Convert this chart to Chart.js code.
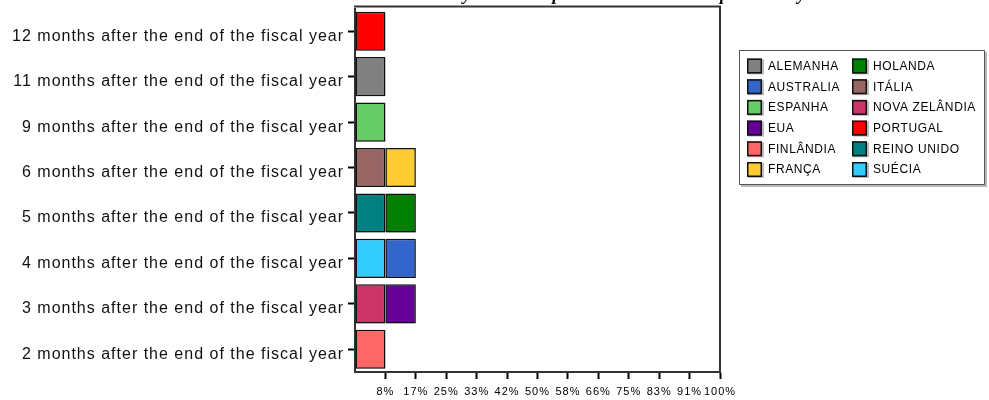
<!DOCTYPE html>
<html>
<head>
<meta charset="utf-8">
<script src="https://cdn.jsdelivr.net/npm/chart.js@4/dist/chart.umd.min.js"></script>
<style>
  html, body { margin: 0; padding: 0; background: #fff; }
  #wrap { width: 989px; height: 400px; }
</style>
</head>
<body>
<div id="wrap"><canvas id="chart" width="989" height="400"></canvas></div>
<script>
// Delay categories (top to bottom) and the month count each one stands for
const categories = [
  '12 months after the end of the fiscal year',
  '11 months after the end of the fiscal year',
  '9 months after the end of the fiscal year',
  '6 months after the end of the fiscal year',
  '5 months after the end of the fiscal year',
  '4 months after the end of the fiscal year',
  '3 months after the end of the fiscal year',
  '2 months after the end of the fiscal year'
];
const categoryMonths = [12, 11, 9, 6, 5, 4, 3, 2];

// Countries in stacking order, with their publication delay in months
const countries = ['PORTUGAL', 'ALEMANHA', 'ESPANHA', 'ITÁLIA', 'FRANÇA', 'REINO UNIDO',
                   'HOLANDA', 'SUÉCIA', 'AUSTRALIA', 'NOVA ZELÂNDIA', 'EUA', 'FINLÂNDIA'];
const delayMonths = [12, 11, 9, 6, 6, 5, 5, 4, 4, 3, 3, 2];
const countryColors = ['#FF0000', '#808080', '#66CC66', '#996666', '#FFCC33', '#008080',
                       '#008000', '#33CCFF', '#3366CC', '#CC3366', '#660099', '#FF6666'];

// Share-of-countries axis labels (one step per country out of twelve)
const tickLabels = ['', '8%', '17%', '25%', '33%', '42%', '50%', '58%', '66%', '75%', '83%', '91%', '100%'];

const titleText = 'Delay in annual publication in months per country';

const datasets = countries.map((name, i) => ({
  label: name,
  data: categoryMonths.map(m => (m === delayMonths[i] ? 1 : null)),
  backgroundColor: countryColors[i],
  borderColor: '#111',
  borderWidth: 1.5,
  borderSkipped: false,
  barPercentage: 0.86,
  categoryPercentage: 1
}));

const FONT = '"Liberation Sans", Arial, sans-serif';

const textSpacing = {
  id: 'textSpacing',
  beforeDraw(chart) { chart.ctx.letterSpacing = '1px'; }
};

const barShadow = {
  id: 'barShadow',
  beforeDatasetsDraw(chart) {
    const ctx = chart.ctx;
    ctx.save();
    ctx.shadowColor = 'rgba(0,0,0,0.28)';
    ctx.shadowOffsetX = 1.5;
    ctx.shadowOffsetY = 1.5;
    ctx.shadowBlur = 1.5;
  },
  afterDatasetsDraw(chart) { chart.ctx.restore(); }
};

const frameAndTitle = {
  id: 'frameAndTitle',
  afterDraw(chart) {
    const ctx = chart.ctx;
    const a = chart.chartArea;
    ctx.save();
    ctx.strokeStyle = '#333';
    ctx.lineWidth = 2;
    ctx.beginPath();
    ctx.moveTo(a.left - 1, a.top - 2);
    ctx.lineTo(a.right, a.top - 2);
    ctx.lineTo(a.right, a.bottom);
    ctx.stroke();

    // title sits just above the canvas edge
    ctx.letterSpacing = '0px';
    ctx.fillStyle = '#000';
    ctx.font = 'italic bold 18px "Liberation Serif", "Times New Roman", serif';
    ctx.textAlign = 'left';
    ctx.textBaseline = 'alphabetic';
    ctx.fillText(titleText, 428, 0);
    ctx.restore();
  }
};

const boxLegend = {
  id: 'boxLegend',
  afterDraw(chart) {
    const ctx = chart.ctx;
    const items = chart.data.datasets
      .map(d => ({ label: d.label, color: d.backgroundColor }))
      .sort((p, q) => p.label.localeCompare(q.label, 'pt'));
    const bx = 739, by = 50, bw = 246, bh = 135;
    const rows = 6, rowH = 20.7, firstRow = by + 16;
    const colX = [747, 852];
    ctx.save();
    ctx.letterSpacing = '0.6px';
    ctx.fillStyle = '#b8b8b8';
    ctx.fillRect(bx + 2, by + 2, bw, bh);
    ctx.fillStyle = '#fff';
    ctx.fillRect(bx, by, bw, bh);
    ctx.strokeStyle = '#555';
    ctx.lineWidth = 1;
    ctx.strokeRect(bx + 0.5, by + 0.5, bw - 1, bh - 1);

    ctx.font = '12px ' + FONT;
    ctx.textAlign = 'left';
    ctx.textBaseline = 'middle';
    items.forEach((it, i) => {
      const col = Math.floor(i / rows), row = i % rows;
      const x = colX[col], cy = firstRow + row * rowH;
      ctx.fillStyle = '#bbb';
      ctx.fillRect(x + 1, cy - 6.5, 16, 15);
      ctx.fillStyle = it.color;
      ctx.fillRect(x, cy - 7.5, 15, 15);
      ctx.strokeStyle = '#111';
      ctx.lineWidth = 1.5;
      ctx.strokeRect(x + 0.75, cy - 6.75, 13.5, 13.5);
      ctx.fillStyle = '#000';
      ctx.fillText(it.label, x + 21, cy + 0.5);
    });
    ctx.restore();
  }
};

new Chart(document.getElementById('chart'), {
  type: 'bar',
  data: { labels: categories, datasets },
  options: {
    indexAxis: 'y',
    responsive: false,
    animation: false,
    devicePixelRatio: 1,
    layout: { padding: { top: 8.5, right: 269, bottom: 0, left: 0 } },
    plugins: {
      legend: { display: false },
      tooltip: { enabled: false },
      title: { display: false }
    },
    scales: {
      x: {
        type: 'linear',
        stacked: true,
        min: 0,
        max: countries.length,
        afterFit(s) {
          s.height = 28;
          s.paddingLeft = 0; s.paddingRight = 0; s.paddingTop = 0; s.paddingBottom = 0;
        },
        ticks: {
          stepSize: 1,
          autoSkip: false,
          maxRotation: 0,
          padding: 6,
          color: '#000',
          font: { family: FONT, size: 11 },
          callback: (v, i) => tickLabels[i]
        },
        grid: {
          drawOnChartArea: false,
          tickLength: 7,
          tickWidth: 2,
          tickColor: c => (c.index === 0 ? 'rgba(0,0,0,0)' : '#000')
        },
        border: { color: '#333', width: 2 }
      },
      y: {
        stacked: true,
        afterFit(s) {
          s.width = 355;
          s.paddingLeft = 0; s.paddingRight = 0; s.paddingTop = 0; s.paddingBottom = 0;
        },
        ticks: {
          autoSkip: false,
          padding: 4,
          labelOffset: 5,
          color: '#111',
          font: { family: FONT, size: 16 }
        },
        grid: {
          offset: false,
          drawOnChartArea: false,
          tickLength: 7,
          tickWidth: 2,
          tickColor: '#000'
        },
        border: { color: '#333', width: 2 }
      }
    }
  },
  plugins: [textSpacing, barShadow, frameAndTitle, boxLegend]
});
</script>
</body>
</html>
